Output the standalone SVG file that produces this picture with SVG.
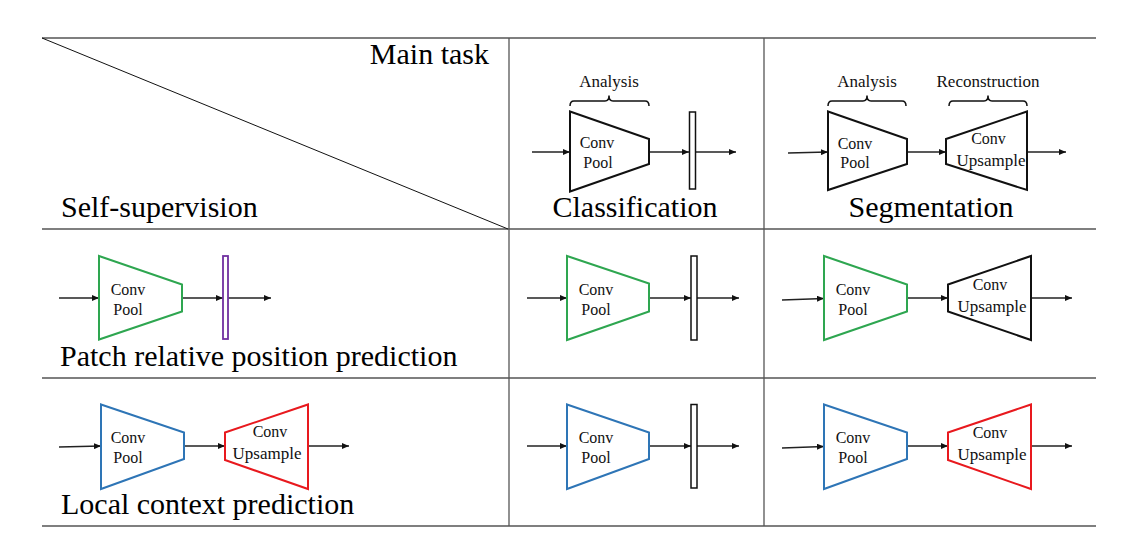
<svg xmlns="http://www.w3.org/2000/svg" width="1128" height="550" viewBox="0 0 1128 550">
<defs>
<marker id="ah" markerUnits="userSpaceOnUse" markerWidth="8" markerHeight="6" refX="7" refY="3" orient="auto">
<path d="M0,0 L7,3 L0,6 z" fill="#111"/>
</marker>
<style>
.grid{stroke:#555;stroke-width:1.3;fill:none}
.diag{stroke:#111;stroke-width:1;fill:none}
.arr{stroke:#222;stroke-width:1.6;fill:none;marker-end:url(#ah)}
.tb{fill:#fff;stroke-width:2;stroke-linejoin:miter}
.blk{stroke:#111}
.grn{stroke:#2ea650}
.blu{stroke:#2e75b6}
.red{stroke:#e8191e}
.bar{fill:#fff;stroke:#111;stroke-width:1.5}
.barp{fill:#fff;stroke:#7030a0;stroke-width:1.8}
.brace{stroke:#111;stroke-width:1.5;fill:none}
.big{font-family:"Liberation Serif","Times New Roman",serif;font-size:30px;fill:#000}
.sm{font-family:"Liberation Serif","Times New Roman",serif;font-size:16px;fill:#111}
.lab{font-family:"Liberation Serif","Times New Roman",serif;font-size:17px;fill:#111}
</style>
</defs>
<rect width="1128" height="550" fill="#fff"/>

<g id="table">
<line class="grid" x1="42" y1="38" x2="1096" y2="38"/>
<line class="grid" x1="42" y1="229" x2="1096" y2="229"/>
<line class="grid" x1="42" y1="378" x2="1096" y2="378"/>
<line class="grid" x1="42" y1="526" x2="1096" y2="526"/>
<line class="grid" x1="509" y1="38" x2="509" y2="526"/>
<line class="grid" x1="764" y1="38" x2="764" y2="526"/>
<line class="diag" x1="42" y1="38" x2="508" y2="229"/>
</g>

<g id="headers">
<text class="big" x="489" y="64" text-anchor="end">Main task</text>
<text class="big" x="61" y="217">Self-supervision</text>
<text class="big" x="635" y="217" text-anchor="middle">Classification</text>
<text class="big" x="931" y="217" text-anchor="middle">Segmentation</text>
<text class="big" x="60" y="366">Patch relative position prediction</text>
<text class="big" x="61" y="514">Local context prediction</text>
</g>

<g id="connectors">
<line class="arr" x1="532" y1="152" x2="570" y2="152"/>
<line class="arr" x1="649" y1="152" x2="689" y2="152"/>
<line class="arr" x1="696" y1="152" x2="736" y2="152"/>
<line class="arr" x1="788" y1="153" x2="828" y2="152"/>
<line class="arr" x1="907" y1="152" x2="946" y2="152"/>
<line class="arr" x1="1027" y1="152" x2="1066" y2="152"/>
<line class="arr" x1="59" y1="298" x2="99" y2="298"/>
<line class="arr" x1="182" y1="298" x2="223" y2="298"/>
<line class="arr" x1="228" y1="298" x2="271" y2="298"/>
<line class="arr" x1="527" y1="298" x2="567" y2="298"/>
<line class="arr" x1="649" y1="298" x2="691" y2="298"/>
<line class="arr" x1="697" y1="298" x2="739" y2="298"/>
<line class="arr" x1="782" y1="300" x2="824" y2="298.5"/>
<line class="arr" x1="907" y1="298" x2="948" y2="298"/>
<line class="arr" x1="1031" y1="298" x2="1072" y2="298"/>
<line class="arr" x1="59" y1="447" x2="101" y2="446"/>
<line class="arr" x1="184" y1="446" x2="225" y2="446"/>
<line class="arr" x1="308" y1="446" x2="349" y2="446"/>
<line class="arr" x1="527" y1="446" x2="567" y2="446"/>
<line class="arr" x1="649" y1="446" x2="691" y2="446"/>
<line class="arr" x1="697" y1="446" x2="739" y2="446"/>
<line class="arr" x1="782" y1="448" x2="824" y2="446.5"/>
<line class="arr" x1="907" y1="446" x2="948" y2="446"/>
<line class="arr" x1="1031" y1="446" x2="1072" y2="446"/>
</g>

<g id="r1c-brace">
<path class="brace" d="M570,106 Q570,101 574,101 L605,101 Q609,101 609,95.5 Q609,101 613,101 L645,101 Q649,101 649,106"/>
<text class="lab" x="609" y="87" text-anchor="middle">Analysis</text>
</g>
<g id="r1c-enc">
<polygon class="tb blk" points="570,111.5 649,139 649,164 570,191.5"/>
<text class="sm" x="597" y="148" text-anchor="middle">Conv</text>
<text class="sm" x="598" y="168" text-anchor="middle">Pool</text>
</g>
<g id="r1c-fc"><rect class="bar" x="689.5" y="112" width="6" height="77"/></g>

<g id="r1s-brace1">
<path class="brace" d="M828,106 Q828,101 832,101 L863,101 Q867,101 867,95.5 Q867,101 871,101 L902,101 Q906,101 906,106"/>
<text class="lab" x="867" y="87" text-anchor="middle">Analysis</text>
</g>
<g id="r1s-brace2">
<path class="brace" d="M949,106 Q949,101 953,101 L984,101 Q988,101 988,95.5 Q988,101 992,101 L1023,101 Q1027,101 1027,106"/>
<text class="lab" x="988" y="87" text-anchor="middle">Reconstruction</text>
</g>
<g id="r1s-enc">
<polygon class="tb blk" points="828,111.5 907,139 907,164 828,190"/>
<text class="sm" x="855" y="149" text-anchor="middle">Conv</text>
<text class="sm" x="855" y="168" text-anchor="middle">Pool</text>
</g>
<g id="r1s-dec">
<polygon class="tb blk" points="946,139 1027,111.5 1027,190 946,164"/>
<text class="sm" x="988.5" y="143.5" text-anchor="middle">Conv</text>
<text class="lab" x="991" y="166" text-anchor="middle">Upsample</text>
</g>

<g id="r2l-enc">
<polygon class="tb grn" points="99,256 182,284.5 182,311.5 99,339.5"/>
<text class="sm" x="128" y="294.5" text-anchor="middle">Conv</text>
<text class="sm" x="128" y="315" text-anchor="middle">Pool</text>
</g>
<g id="r2l-fc"><rect class="barp" x="223" y="256" width="5" height="83"/></g>

<g id="r2m-enc">
<polygon class="tb grn" points="567,256 649,283.5 649,311.5 567,340"/>
<text class="sm" x="596" y="295" text-anchor="middle">Conv</text>
<text class="sm" x="596" y="314.5" text-anchor="middle">Pool</text>
</g>
<g id="r2m-fc"><rect class="bar" x="691" y="256" width="6" height="84"/></g>

<g id="r2r-enc">
<polygon class="tb grn" points="824,256 907,284.5 907,311.5 824,340"/>
<text class="sm" x="853" y="295" text-anchor="middle">Conv</text>
<text class="sm" x="853" y="315" text-anchor="middle">Pool</text>
</g>
<g id="r2r-dec">
<polygon class="tb blk" points="948,284.5 1031,256 1031,340 948,311.5"/>
<text class="sm" x="990" y="290" text-anchor="middle">Conv</text>
<text class="lab" x="992" y="312" text-anchor="middle">Upsample</text>
</g>

<g id="r3l-enc">
<polygon class="tb blu" points="101,404.5 184,432.5 184,459 101,489"/>
<text class="sm" x="128" y="443" text-anchor="middle">Conv</text>
<text class="sm" x="128" y="463" text-anchor="middle">Pool</text>
</g>
<g id="r3l-dec">
<polygon class="tb red" points="225,432.5 308,404.5 308,489 225,460"/>
<text class="sm" x="270" y="437" text-anchor="middle">Conv</text>
<text class="lab" x="267" y="459" text-anchor="middle">Upsample</text>
</g>

<g id="r3m-enc">
<polygon class="tb blu" points="567,404.5 649,432.5 649,459 567,489"/>
<text class="sm" x="596" y="443" text-anchor="middle">Conv</text>
<text class="sm" x="596" y="463" text-anchor="middle">Pool</text>
</g>
<g id="r3m-fc"><rect class="bar" x="691" y="404.5" width="6" height="83.5"/></g>

<g id="r3r-enc">
<polygon class="tb blu" points="824,404.5 907,432.5 907,459 824,489"/>
<text class="sm" x="853" y="443" text-anchor="middle">Conv</text>
<text class="sm" x="853" y="463" text-anchor="middle">Pool</text>
</g>
<g id="r3r-dec">
<polygon class="tb red" points="948,432.5 1031,404.5 1031,489 948,460"/>
<text class="sm" x="990" y="438" text-anchor="middle">Conv</text>
<text class="lab" x="992" y="460" text-anchor="middle">Upsample</text>
</g>
</svg>
